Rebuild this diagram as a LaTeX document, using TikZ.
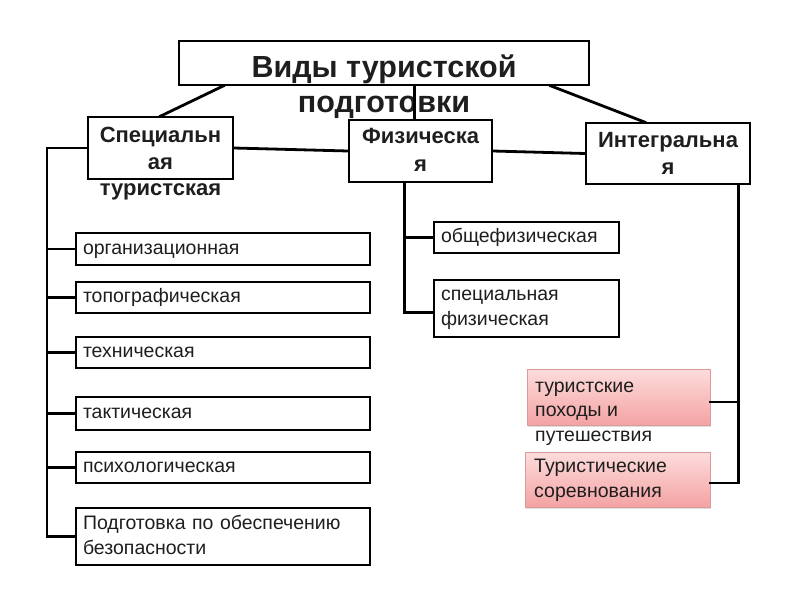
\documentclass[tikz,border=0pt]{standalone}
\usepackage{fontspec}
\setmainfont{Liberation Sans}
\usetikzlibrary{calc,shadows}
\definecolor{pinktop}{HTML}{FDDCDC}
\definecolor{pinkbot}{HTML}{F4A3A3}
\definecolor{pinkline}{HTML}{D89A9A}
\definecolor{txt}{HTML}{1E1E1E}
\newcommand{\tstrut}{\rule{0pt}{14pt}}
\newcommand{\bstrut}{\rule[-4pt]{0pt}{4pt}}
\begin{document}
\begin{tikzpicture}[x=1pt,y=-1pt,
  box/.style={draw=black,line width=1.7pt,rectangle,inner sep=0pt},
  head/.style={font=\fontsize{22}{27}\selectfont\bfseries,text=txt,anchor=base,inner sep=0pt},
  ttl/.style={font=\fontsize{30.5}{34}\selectfont\bfseries,text=txt,anchor=base,inner sep=0pt},
  itembase/.style={draw=black,line width=1.4pt,rectangle,inner xsep=7pt,inner ysep=0pt,align=left,
     font=\fontsize{19.5}{25}\selectfont,text=txt,anchor=center},
  item/.style={itembase,text height=14pt,text depth=4pt},
  pinkbox/.style={draw=pinkline,line width=0.8pt,top color=pinktop,bottom color=pinkbot,
     drop shadow={opacity=0.25,shadow xshift=1pt,shadow yshift=-2pt},rectangle,inner sep=0pt},
  ptxt/.style={anchor=base west,font=\fontsize{19.5}{24.5}\selectfont,text=txt,inner sep=0pt},
  conn/.style={line width=2.8pt,line cap=rect},
]
\useasboundingbox (0,0) rectangle (800,600);
% title
\node[box,minimum width=410pt,minimum height=44pt] (title) at (384,63) {};
\node[ttl] (t1) at (384,77) {Виды туристской};
\node[ttl] (t2) at (384,112) {подготовки};
% level 1
\node[box,minimum width=145pt,minimum height=62pt] (spec) at (160.5,148) {};
\node[head] (spec1) at (160.5,142) {Специальн};
\node[head] (spec2) at (160.5,169) {ая};
\node[head] (spec3) at (160.5,195) {туристская};
\node[box,minimum width=143pt,minimum height=62pt] (fiz) at (420.5,151) {};
\node[head] (fiz1) at (420.5,143) {Физическа};
\node[head] (fiz2) at (420.5,171) {я};
\node[box,minimum width=164pt,minimum height=61pt] (integ) at (668,153.5) {};
\node[head] (int1) at (668,147) {Интегральна};
\node[head] (int2) at (668,174) {я};
% left items
\node[item,text width=280pt,minimum height=32pt] (org) at (223,249) {организационная};
\node[item,text width=280pt,minimum height=31pt] (topo) at (223,297.5) {топографическая};
\node[item,text width=280pt,minimum height=31pt] (tech) at (223,352.5) {техническая};
\node[item,text width=280pt,minimum height=33pt] (takt) at (223,413.5) {тактическая};
\node[item,text width=280pt,minimum height=31pt] (psy) at (223,467.5) {психологическая};
\node[itembase,text width=280pt,minimum height=57pt] (bez) at (223,536.5) {\tstrut Подготовка по обеспечению\\безопасности\bstrut};
% physical items
\node[item,text width=171pt,minimum height=31pt] (obsh) at (526.5,237.5) {общефизическая};
\node[itembase,text width=171pt,minimum height=57pt] (sfiz) at (526.5,308.5) {\tstrut специальная\\физическая\bstrut};
% pink
\node[pinkbox,minimum width=183pt,minimum height=56pt] (pk1) at (618.5,397) {};
\node[ptxt] (pk1a) at (535,392) {туристские};
\node[ptxt] (pk1b) at (535,416.5) {походы и};
\node[ptxt] (pk1c) at (535,441) {путешествия};
\node[pinkbox,minimum width=185pt,minimum height=55pt] (pk2) at (617.5,479.5) {};
\node[ptxt] (pk2a) at (534,472) {Туристические};
\node[ptxt] (pk2b) at (534,497) {соревнования};
% connectors
\coordinate (Lx) at (47,0);
\draw[conn] ($(title.south west)!0.11!(title.south east)$) -- (spec.north);
\draw[conn] ($(title.south west)!0.905!(title.south east)$) -- ($(integ.north west)!0.36!(integ.north east)$);
\coordinate (fv) at ($(fiz.north west)!0.46!(fiz.north east)$);
\draw[conn] (fv) -- (fv |- title.south);
\draw[conn] (spec.east) -- (fiz.west);
\draw[conn] (fiz.east) -- (integ.west);
\draw[conn] (spec.west) -- (spec.west -| Lx) -- (bez.west -| Lx) -- (bez.west);
\foreach \n in {org,topo,tech,takt,psy} \draw[conn] (\n.west -| Lx) -- (\n.west);
\coordinate (fx) at ($(fiz.south west)!0.39!(fiz.south east)$);
\draw[conn] (fx) -- ($(fx |- sfiz.west)+(0,4)$) -- ($(sfiz.west)+(0,4)$);
\draw[conn] (fx |- obsh.west) -- (obsh.west);
\coordinate (ix) at ($(integ.south east)+(-12,0)$);
\draw[conn] (ix) -- ($(ix |- pk2.east)+(0,3.5)$) -- ($(pk2.east)+(0,3.5)$);
\draw[conn] ($(ix |- pk1.east)+(0,5)$) -- ($(pk1.east)+(0,5)$);
\end{tikzpicture}
\end{document}
